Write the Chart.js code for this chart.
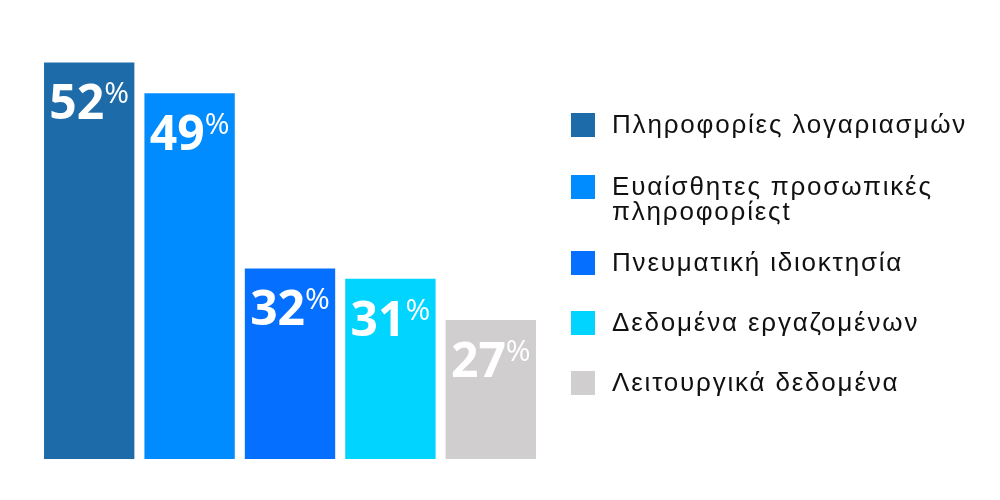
<!DOCTYPE html>
<html>
<head>
<meta charset="utf-8">
<script src="https://cdn.jsdelivr.net/npm/chart.js@4"></script>
<style>
    html, body { margin: 0; padding: 0; background: #fff; }
    #wrap { position: relative; width: 1000px; height: 500px; }
    #legend { position: absolute; left: 571px; top: 0; font-family: "Liberation Sans", Arial, sans-serif; font-size: 26px; letter-spacing: 1.8px; color: #111; }
    .item { position: absolute; left: 0; white-space: nowrap; }
    .box { position: absolute; left: 0; width: 24px; height: 24px; }
    .txt { position: absolute; left: 41px; line-height: 25px; }
</style>
</head>
<body>
<div id="wrap">
    <canvas id="myChart" width="1000" height="500"></canvas>
    <div id="legend"></div>
</div>
<script>
// values
const categories = ['Πληροφορίες λογαριασμών', ['Ευαίσθητες προσωπικές', 'πληροφορίεςt'], 'Πνευματική ιδιοκτησία', 'Δεδομένα εργαζομένων', 'Λειτουργικά δεδομένα'];
const percents = [52, 49, 32, 31, 27];
const barColors = ['#1d6ca9', '#008cff', '#0570ff', '#00d4ff', '#d0cece'];

// legend rows (y of first line centre)
const legendTops = [125, 187, 263, 323, 383];

function buildLegend() {
    const legend = document.getElementById('legend');
    categories.forEach(function(cat, i) {
        const lines = Array.isArray(cat) ? cat : [cat];
        const item = document.createElement('div');
        item.className = 'item';
        item.style.top = (legendTops[i] - 12) + 'px';
        const box = document.createElement('div');
        box.className = 'box';
        box.style.background = barColors[i];
        const txt = document.createElement('div');
        txt.className = 'txt';
        txt.style.top = '-1px';
        txt.innerHTML = lines.join('<br>');
        item.appendChild(box);
        item.appendChild(txt);
        legend.appendChild(item);
    });
}

// big white number + small % inside top of each bar
const valueLabels = {
    id: 'valueLabels',
    afterDatasetsDraw(chart) {
        const ctx = chart.ctx;
        const meta = chart.getDatasetMeta(0);
        meta.data.forEach(function(bar, i) {
            const num = String(percents[i]);
            ctx.save();
            ctx.fillStyle = '#fff';
            ctx.textBaseline = 'alphabetic';
            ctx.textAlign = 'left';
            ctx.font = 'bold 48px "Open Sans"';
            const w1 = ctx.measureText(num).width;
            ctx.font = '30px "Open Sans"';
            const w2 = ctx.measureText('%').width;
            const x0 = bar.x - (w1 + w2) / 2;
            const base = bar.y + 57;
            ctx.font = 'bold 48px "Open Sans"';
            ctx.fillText(num, x0, base);
            ctx.font = '30px "Open Sans"';
            ctx.fillText('%', x0 + w1, base - 16);
            ctx.restore();
        });
    }
};

function createChart() {
    const ctx = document.getElementById('myChart').getContext('2d');
    return new Chart(ctx, {
        type: 'bar',
        data: {
            labels: categories,
            datasets: [{
                data: percents,
                backgroundColor: barColors,
                borderWidth: 0,
                categoryPercentage: 1,
                barPercentage: 0.9
            }]
        },
        options: {
            responsive: false,
            animation: false,
            layout: { padding: { left: 39, right: 459, top: 48, bottom: 41 } },
            plugins: { legend: { display: false }, tooltip: { enabled: false } },
            scales: {
                x: { display: false },
                y: { display: false, min: 13.5, max: 53.4 }
            }
        },
        plugins: [valueLabels]
    });
}

buildLegend();
createChart();
</script>
</body>
</html>
